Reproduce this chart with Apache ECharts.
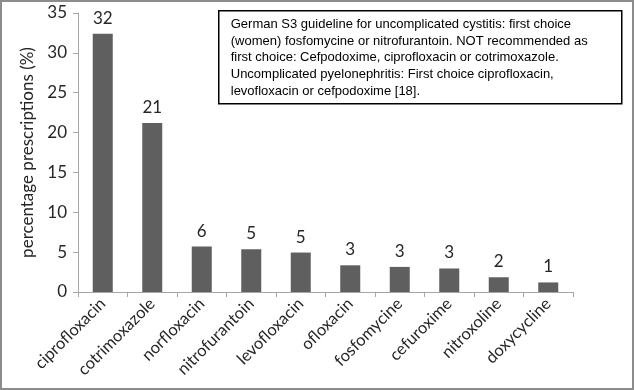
<!DOCTYPE html>
<html><head><meta charset="utf-8">
<script src="https://cdn.jsdelivr.net/npm/echarts@6/dist/echarts.min.js"></script>
<style>
html,body{margin:0;padding:0;background:#fff;}
#frame{position:absolute;left:0;top:0;width:630px;height:386px;border:2px solid #8c8c8c;}
#c{position:absolute;left:0;top:0;width:634px;height:390px;}
</style></head><body>
<div id="frame"></div>
<div id="c"></div>
<script>
const categories = ['ciprofloxacin','cotrimoxazole','norfloxacin','nitrofurantoin','levofloxacin','ofloxacin','fosfomycine','cefuroxime','nitroxoline','doxycycline'];
const values = [32.4, 21.2, 5.7, 5.35, 4.95, 3.35, 3.15, 2.95, 1.85, 1.2];
const yTicks = {min: 0, max: 35, interval: 5};
const yTitle = 'percentage prescriptions (%)';
const noteLines = [
  'German S3 guideline for uncomplicated cystitis: first choice',
  '(women) fosfomycine or nitrofurantoin. NOT recommended as',
  'first choice: Cefpodoxime, ciprofloxacin or cotrimoxazole.',
  'Uncomplicated pyelonephritis: First choice ciprofloxacin,',
  'levofloxacin or cefpodoxime [18].'
];
const chart = echarts.init(document.getElementById('c'));
const axisFont = 'Lato, "Open Sans", sans-serif';
chart.setOption({
  animation: false,
  grid: {left: 78, right: 61, top: 13, bottom: 98},
  xAxis: {
    type: 'category', data: categories,
    axisLine: {lineStyle: {color: '#a6a6a6', width: 1}},
    axisTick: {show: true, alignWithLabel: false, length: 5, lineStyle: {color: '#a6a6a6'}},
    axisLabel: {rotate: 45, interval: 0, margin: 9, color: '#262626', fontSize: 16.5, fontFamily: axisFont}
  },
  yAxis: {
    type: 'value', min: yTicks.min, max: yTicks.max, interval: yTicks.interval,
    name: yTitle, nameLocation: 'middle', nameGap: 40,
    nameTextStyle: {color: '#262626', fontSize: 17, fontFamily: axisFont},
    axisLine: {show: true, lineStyle: {color: '#a6a6a6'}},
    axisTick: {show: true, length: 5, lineStyle: {color: '#a6a6a6'}},
    splitLine: {show: false},
    axisLabel: {color: '#262626', fontSize: 17, fontFamily: axisFont, margin: 11}
  },
  series: [{
    type: 'bar', data: values, barWidth: 20,
    itemStyle: {color: '#5f5f5f'},
    label: {show: true, position: 'top', distance: 7, color: '#262626', fontSize: 17, fontFamily: axisFont,
      formatter: p => Math.round(p.value)}
  }],
  graphic: [{
    type: 'group', left: 218, top: 10,
    children: [
      {type: 'rect', shape: {x: 0, y: 0, width: 403, height: 93}, style: {fill: '#fff', stroke: '#000', lineWidth: 1.5}},
      {type: 'text', x: 12, y: 5, style: {text: noteLines.join('\n'), font: '13px "Liberation Sans", Arial, sans-serif', fill: '#000', lineHeight: 16.8}}
    ]
  }]
});
</script>
</body></html>
